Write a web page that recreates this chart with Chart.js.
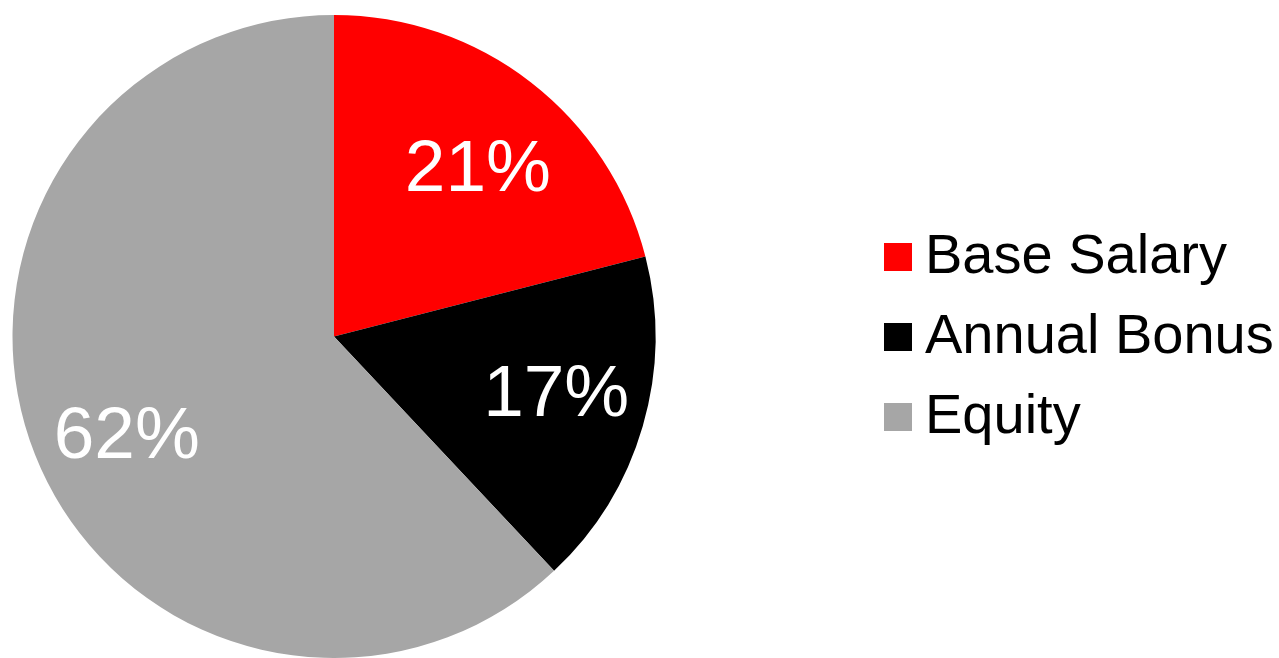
<!DOCTYPE html>
<html>
<head>
<meta charset="utf-8">
<script src="https://cdn.jsdelivr.net/npm/chart.js@4"></script>
<style>
html,body{margin:0;padding:0;background:#fff;}
#wrap{width:1279px;height:658px;position:relative;}
</style>
</head>
<body>
<div id="wrap"><canvas id="c" width="1279" height="658"></canvas></div>
<script>
const categories = ["Base Salary", "Annual Bonus", "Equity"];
const values = [21, 17, 62];
const colors = ["#FF0000", "#000000", "#A6A6A6"];
const valueLabels = ["21%", "17%", "62%"];

const FONT = "'Liberation Sans', Arial, sans-serif";

const labelPlugin = {
  id: 'sliceLabels',
  afterDatasetsDraw(chart) {
    const ctx = chart.ctx;
    const meta = chart.getDatasetMeta(0);
    // small label nudges (best-fit placement in the original)
    const nudge = [[4, 15], [3, -4], [5, 17]];
    ctx.save();
    ctx.fillStyle = '#FFFFFF';
    ctx.font = '73px ' + FONT;
    ctx.textAlign = 'center';
    ctx.textBaseline = 'middle';
    meta.data.forEach((arc, i) => {
      const p = arc.getProps(['x','y','startAngle','endAngle','outerRadius'], true);
      const mid = (p.startAngle + p.endAngle) / 2;
      const r = p.outerRadius * 0.71;
      ctx.fillText(valueLabels[i], p.x + Math.cos(mid) * r + nudge[i][0], p.y + Math.sin(mid) * r + nudge[i][1]);
    });
    ctx.restore();
  }
};

const legendPlugin = {
  id: 'customLegend',
  afterDraw(chart) {
    const ctx = chart.ctx;
    ctx.save();
    ctx.font = '56px ' + FONT;
    ctx.textBaseline = 'alphabetic';
    ctx.textAlign = 'left';
    const startY = 257, step = 80, boxX = 884, box = 28, textX = 925;
    categories.forEach((c, i) => {
      const y = startY + i * step;
      ctx.fillStyle = colors[i];
      ctx.fillRect(boxX, y - box / 2, box, box);
      ctx.fillStyle = '#000000';
      ctx.fillText(c, textX, y + 16);
    });
    ctx.restore();
  }
};

new Chart(document.getElementById('c'), {
  type: 'pie',
  data: {
    labels: categories,
    datasets: [{
      data: values,
      backgroundColor: colors,
      borderWidth: 0,
      hoverOffset: 0
    }]
  },
  options: {
    responsive: false,
    animation: false,
    layout: { padding: { left: 12, top: 15, right: 623, bottom: 0 } },
    plugins: {
      legend: { display: false },
      tooltip: { enabled: false }
    }
  },
  plugins: [labelPlugin, legendPlugin]
});
</script>
</body>
</html>
